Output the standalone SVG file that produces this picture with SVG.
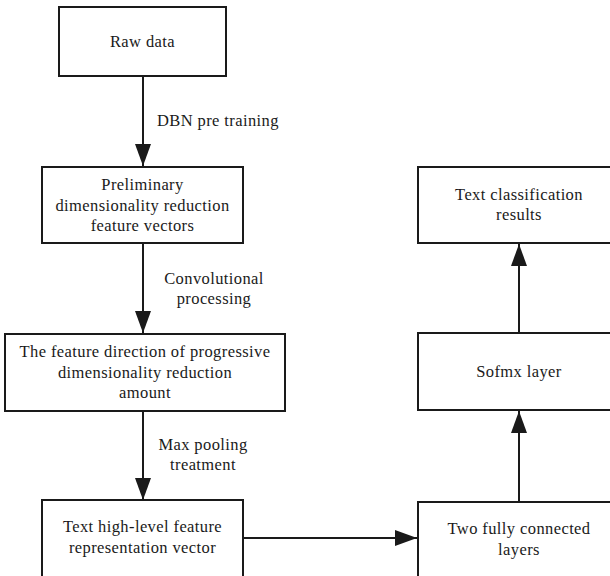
<svg xmlns="http://www.w3.org/2000/svg" width="610" height="576" viewBox="0 0 610 576">
<style>
.box{fill:#fff;stroke:#1a1a1a;stroke-width:2}
.t{font-family:"Liberation Serif","Times New Roman","DejaVu Serif",serif;font-size:16.5px;letter-spacing:0.4px;fill:#1a1a1a;text-anchor:middle}
.l{font-family:"Liberation Serif","Times New Roman","DejaVu Serif",serif;font-size:16.5px;letter-spacing:0.4px;fill:#1a1a1a;text-anchor:start}
.c{stroke:#1a1a1a;stroke-width:2;fill:none}
</style>
<defs>
<marker id="ah" viewBox="0 0 22 16" refX="22" refY="8" markerWidth="22" markerHeight="16" markerUnits="userSpaceOnUse" orient="auto">
<path d="M0,0 L22,8 L0,16 Z" fill="#1a1a1a"/>
</marker>
</defs>
<rect width="610" height="576" fill="#fff"/>
<g id="connectors">
<line class="c" x1="143" y1="76" x2="143" y2="166" marker-end="url(#ah)"/>
<line class="c" x1="143" y1="243" x2="143" y2="333" marker-end="url(#ah)"/>
<line class="c" x1="143" y1="411" x2="143" y2="500" marker-end="url(#ah)"/>
<line class="c" x1="243" y1="538" x2="417" y2="538" marker-end="url(#ah)"/>
<line class="c" x1="519" y1="502" x2="519" y2="411" marker-end="url(#ah)"/>
<line class="c" x1="519" y1="333" x2="519" y2="244" marker-end="url(#ah)"/>
<text class="l" x="157" y="126">DBN pre training</text>
<text class="t" x="214" y="284">Convolutional</text>
<text class="t" x="214" y="304">processing</text>
<text class="t" x="203" y="450">Max pooling</text>
<text class="t" x="203" y="470">treatment</text>
</g>
<g id="raw-data">
<rect class="box" x="59" y="7" width="167" height="69"/>
<text class="t" x="142.5" y="47">Raw data</text>
</g>
<g id="preliminary">
<rect class="box" x="42" y="167" width="201" height="76"/>
<text class="t" x="142.5" y="190">Preliminary</text>
<text class="t" x="142.5" y="211">dimensionality reduction</text>
<text class="t" x="142.5" y="231">feature vectors</text>
</g>
<g id="feature-direction">
<rect class="box" x="5" y="334" width="280" height="77"/>
<text class="t" x="145" y="357">The feature direction of progressive</text>
<text class="t" x="145" y="378">dimensionality reduction</text>
<text class="t" x="145" y="398">amount</text>
</g>
<g id="text-high-level">
<rect class="box" x="42" y="500" width="201" height="90"/>
<text class="t" x="142.5" y="532">Text high-level feature</text>
<text class="t" x="142.5" y="553">representation vector</text>
</g>
<g id="two-fully-connected">
<rect class="box" x="418" y="502" width="201" height="90"/>
<text class="t" x="519" y="534">Two fully connected</text>
<text class="t" x="519" y="555">layers</text>
</g>
<g id="sofmx">
<rect class="box" x="418" y="333" width="201" height="77"/>
<text class="t" x="519" y="377">Sofmx layer</text>
</g>
<g id="text-classification">
<rect class="box" x="418" y="167" width="201" height="76"/>
<text class="t" x="519" y="200">Text classification</text>
<text class="t" x="519" y="220">results</text>
</g>
</svg>
